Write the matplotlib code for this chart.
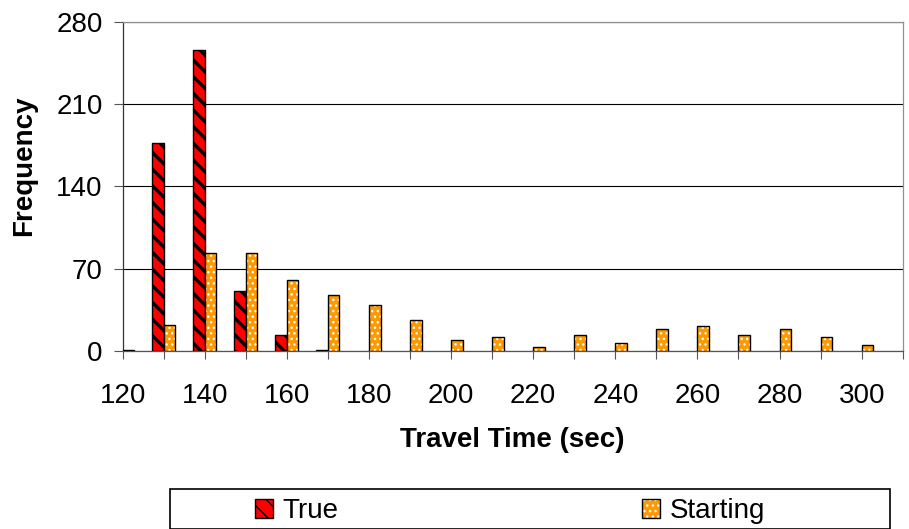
import matplotlib
matplotlib.use("Agg")
import matplotlib.pyplot as plt
import numpy as np
from matplotlib.patches import Patch, Rectangle
from matplotlib.legend_handler import HandlerTuple

plt.rcParams['font.family'] = ['Liberation Sans', 'DejaVu Sans']

# Travel-time histogram bins (sec)
bins = [120, 130, 140, 150, 160, 170, 180, 190, 200, 210,
        220, 230, 240, 250, 260, 270, 280, 290, 300]
true_freq = [0, 177, 256, 51, 14, 1, 0, 0, 0, 0,
             0, 0, 0, 0, 0, 0, 0, 0, 0]
starting_freq = [1, 22, 83, 83, 60, 48, 39, 26, 9, 12,
                 3, 14, 7, 19, 21, 14, 19, 12, 5]
y_ticks = [0, 70, 140, 210, 280]
x_tick_labels = ['120', '', '140', '', '160', '', '180', '', '200', '',
                 '220', '', '240', '', '260', '', '280', '', '300', '']

W, H = 909, 529
fig = plt.figure(figsize=(W / 100, H / 100), dpi=100)
ax = fig.add_axes([122.7 / W, 1 - 351 / H, 780 / W, (351 - 21.7) / H])

x = np.array(bins, dtype=float)
t = np.array(true_freq, dtype=float)
s = np.array(starting_freq, dtype=float)
bw = 2.8
red = '#FF0000'
orange = '#FF9900'

# empty bins get no bar at all
tm = t > 0
sm = s > 0

with plt.rc_context({'hatch.linewidth': 2.4}):
    ax.bar(x[tm] - bw / 2, t[tm], width=bw, color=red, edgecolor='black',
           linewidth=1.0, hatch='\\\\', zorder=3)
with plt.rc_context({'hatch.linewidth': 1.0}):
    ax.bar(x[sm] + bw / 2, s[sm], width=bw, color=orange, edgecolor='white',
           linewidth=0, hatch='...', zorder=3)
ax.bar(x[sm] + bw / 2, s[sm], width=bw, facecolor='none', edgecolor='black',
       linewidth=1.0, zorder=4)

ax.set_xlim(120, 310)
ax.set_ylim(0, 280)
ax.set_yticks(y_ticks)
ax.set_xticks(np.arange(120, 311, 10))
ax.set_xticklabels(x_tick_labels)
ax.yaxis.grid(True, color='black', linewidth=0.8, zorder=0)
ax.set_axisbelow(True)

ax.tick_params(axis='x', direction='out', length=6, width=0.8, color='#555555',
               labelsize=20, pad=17)
ax.tick_params(axis='y', direction='out', length=6.5, width=0.8, color='#555555',
               labelsize=20, pad=8)
for side in ('top', 'right'):
    ax.spines[side].set_color('#909090')
    ax.spines[side].set_linewidth(0.9)
ax.spines['left'].set_color('#333333')
ax.spines['bottom'].set_color('#555555')
ax.spines['left'].set_linewidth(0.9)
ax.spines['bottom'].set_linewidth(0.9)

fig.text(512.7 / W, 1 - 440 / H, 'Travel Time (sec)', ha='center', va='center',
         fontsize=20, fontweight='bold')
fig.text(24 / W, 1 - 166 / H, 'Frequency', ha='center', va='center',
         rotation=90, fontsize=20, fontweight='bold')

# legend frame
fig.add_artist(Rectangle((170 / W, 0), (890 - 170) / W, 1 - 489 / H,
                         transform=fig.transFigure, facecolor='none',
                         edgecolor='black', linewidth=1.2))

with plt.rc_context({'hatch.linewidth': 2.4}):
    h_true = Patch(facecolor=red, edgecolor='black', linewidth=1.0, hatch='\\\\')
with plt.rc_context({'hatch.linewidth': 1.0}):
    h_start_fill = Patch(facecolor=orange, edgecolor='white', linewidth=0, hatch='...')
h_start_edge = Patch(facecolor='none', edgecolor='black', linewidth=1.0)

fig.legend([h_true, (h_start_fill, h_start_edge)], ['True', 'Starting'],
           handler_map={tuple: HandlerTuple(ndivide=1)},
           loc='center left', bbox_to_anchor=(255 / W, 1 - 511 / H),
           ncol=2, frameon=False, fontsize=20, borderpad=0, borderaxespad=0,
           handlelength=0.65, handleheight=0.68, handletextpad=0.35,
           columnspacing=10.9)

fig.savefig('out.png', dpi=100)
